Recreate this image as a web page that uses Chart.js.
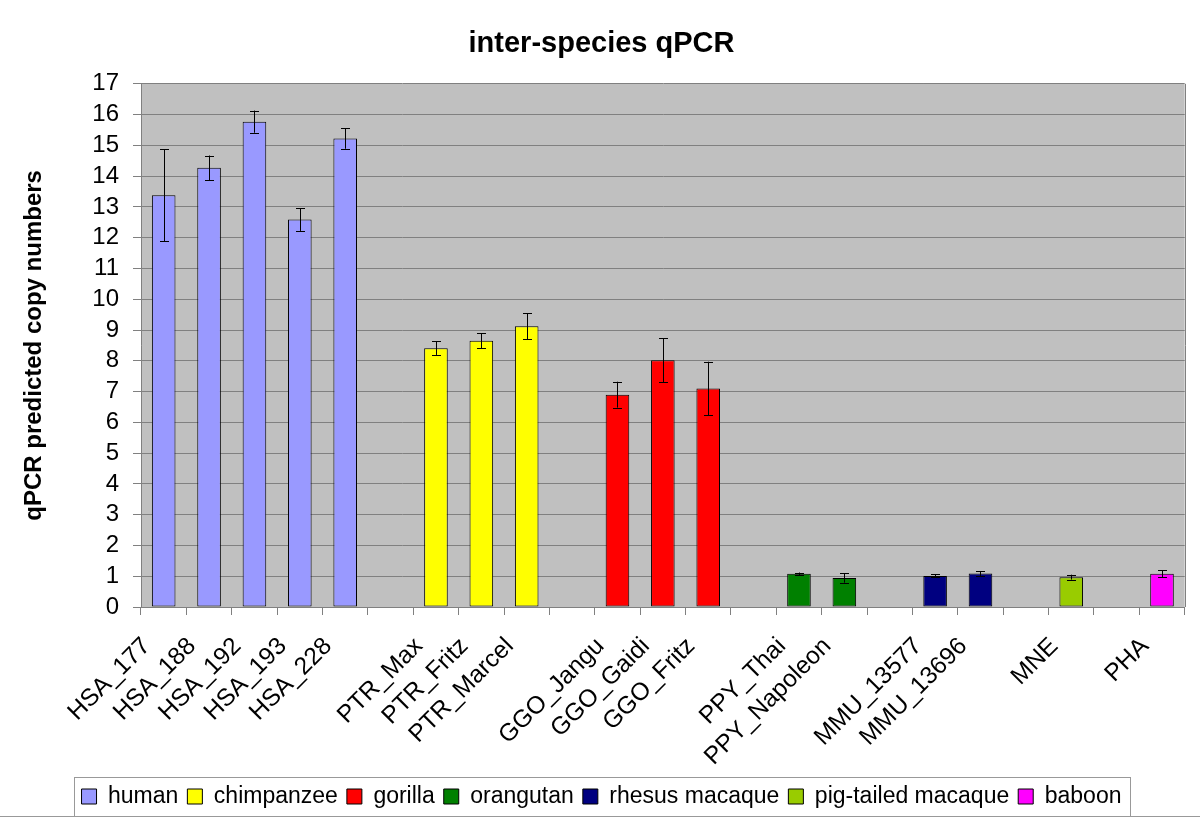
<!DOCTYPE html>
<html><head><meta charset="utf-8">
<script src="https://cdn.jsdelivr.net/npm/chart.js@4.4.0/dist/chart.umd.min.js"></script>
<style>html,body{margin:0;padding:0;background:#fff}</style>
</head><body>
<canvas id="c" width="1200" height="820"></canvas>
<script>
// ---- data ----
const categories = ['HSA_177','HSA_188','HSA_192','HSA_193','HSA_228','',
  'PTR_Max','PTR_Fritz','PTR_Marcel','',
  'GGO_Jangu','GGO_Gaidi','GGO_Fritz','',
  'PPY_Thai','PPY_Napoleon','',
  'MMU_13577','MMU_13696','',
  'MNE','','PHA'];
const species = ['human','chimpanzee','gorilla','orangutan','rhesus macaque','pig-tailed macaque','baboon'];
const speciesOf = [0,0,0,0,0,null,1,1,1,null,2,2,2,null,3,3,null,4,4,null,5,null,6];
const means  = [13.38,14.27,15.77,12.59,15.22,null,8.41,8.65,9.12,null,6.90,8.02,7.10,null,1.08,0.94,null,1.01,1.09,null,0.97,null,1.08];
const errors = [1.50,0.40,0.36,0.37,0.33,null,0.22,0.24,0.42,null,0.42,0.72,0.87,null,0.04,0.15,null,0.05,0.08,null,0.08,null,0.11];
const yTicks = {min:0, max:17, step:1};

// ---- styles ----
const colors = ['#9999FF','#FFFF00','#FF0000','#008000','#000080','#99CC00','#FF00FF'];
const FONT = "'Liberation Sans', Arial, sans-serif";
Chart.defaults.font.family = FONT;
Chart.defaults.color = '#000';

const datasets = species.map((name, s) => ({
  label: name,
  data: means.map((v, i) => speciesOf[i] === s ? v : null),
  errs: errors.map((e, i) => speciesOf[i] === s ? e : null),
  backgroundColor: colors[s],
  borderColor: '#000',
  borderWidth: 1,
  borderSkipped: false,
  barPercentage: 0.52,
  categoryPercentage: 1.0
}));

const plotBg = {
  id: 'plotBg',
  beforeDraw(chart) {
    const {ctx, chartArea: a} = chart;
    ctx.save();
    ctx.fillStyle = '#C0C0C0';
    ctx.fillRect(a.left, a.top, a.right - a.left, a.bottom - a.top);
    ctx.restore();
  },
  afterDraw(chart) {
    const {ctx, chartArea: a} = chart;
    ctx.save();
    ctx.strokeStyle = '#808080';
    ctx.lineWidth = 1;
    ctx.beginPath();
    ctx.moveTo(Math.round(a.right) + 0.5, a.top);
    ctx.lineTo(Math.round(a.right) + 0.5, a.bottom);
    ctx.stroke();
    // legend frame
    const hb = chart.legend.legendHitBoxes;
    if (hb && hb.length) {
      const l = Math.min(...hb.map(h => h.left)) - 8;
      const r = Math.max(...hb.map(h => h.left + h.width)) + 8;
      const t = Math.min(...hb.map(h => h.top)) - 8;
      const b = Math.max(...hb.map(h => h.top + h.height)) + 8;
      ctx.strokeStyle = '#999';
      ctx.strokeRect(Math.round(l) + 0.5, Math.round(t) + 0.5, Math.round(r - l), Math.round(b - t));
    }
    ctx.strokeStyle = '#999';
    ctx.beginPath();
    ctx.moveTo(0, 816.5); ctx.lineTo(1200, 816.5);
    ctx.stroke();
    ctx.restore();
  }
};

const errorBars = {
  id: 'errorBars',
  afterDatasetsDraw(chart) {
    const {ctx} = chart;
    const y = chart.scales.y;
    ctx.save();
    ctx.strokeStyle = '#000';
    ctx.lineWidth = 1;
    chart.data.datasets.forEach((ds, di) => {
      const meta = chart.getDatasetMeta(di);
      meta.data.forEach((bar, i) => {
        const v = ds.data[i], e = ds.errs[i];
        if (v == null || e == null) return;
        const x = Math.round(bar.x) + 0.5;
        const yt = y.getPixelForValue(v + e), yb = y.getPixelForValue(v - e);
        ctx.beginPath();
        ctx.moveTo(x, yt); ctx.lineTo(x, yb);
        ctx.moveTo(x - 4.5, Math.round(yt) + 0.5); ctx.lineTo(x + 4.5, Math.round(yt) + 0.5);
        ctx.moveTo(x - 4.5, Math.round(yb) + 0.5); ctx.lineTo(x + 4.5, Math.round(yb) + 0.5);
        ctx.stroke();
      });
    });
    ctx.restore();
  }
};

new Chart(document.getElementById('c'), {
  type: 'bar',
  data: { labels: categories, datasets },
  plugins: [plotBg, errorBars],
  options: {
    responsive: false,
    animation: false,
    devicePixelRatio: 1,
    layout: { padding: { left: 13, right: 10, top: 0, bottom: 2 } },
    plugins: {
      title: {
        display: true, text: 'inter-species qPCR', color: '#000',
        font: { size: 29, weight: 'bold', family: FONT },
        padding: { top: 27, bottom: 22 }
      },
      legend: {
        display: true, position: 'bottom',
        labels: {
          boxWidth: 15, boxHeight: 15, padding: 9, color: '#000',
          font: { size: 23, family: FONT }
        }
      },
      tooltip: { enabled: false }
    },
    scales: {
      x: {
        stacked: true, offset: true,
        grid: { display: true, drawOnChartArea: false, drawTicks: true, tickLength: 8, color: '#808080', offset: true },
        border: { display: true, color: '#808080' },
        ticks: { autoSkip: false, maxRotation: 45, minRotation: 45, color: '#000', padding: 17, labelOffset: -17,
                 font: { size: 24.5, family: FONT } },
        afterFit(s) { s.height = 169; }
      },
      y: {
        stacked: true, min: yTicks.min, max: yTicks.max,
        grid: { color: '#808080', tickLength: 8 },
        border: { display: true, color: '#808080' },
        ticks: { stepSize: yTicks.step, autoSkip: false, maxTicksLimit: 30, color: '#000', padding: 14,
                 font: { size: 24, family: FONT, lineHeight: 1 } },
        title: { display: true, text: 'qPCR predicted copy numbers', color: '#000',
                 font: { size: 24, weight: 'bold', family: FONT }, padding: { top: 7, bottom: 0 } },
        afterFit(s) { s.width = 128; }
      }
    }
  }
});
</script>
</body></html>
